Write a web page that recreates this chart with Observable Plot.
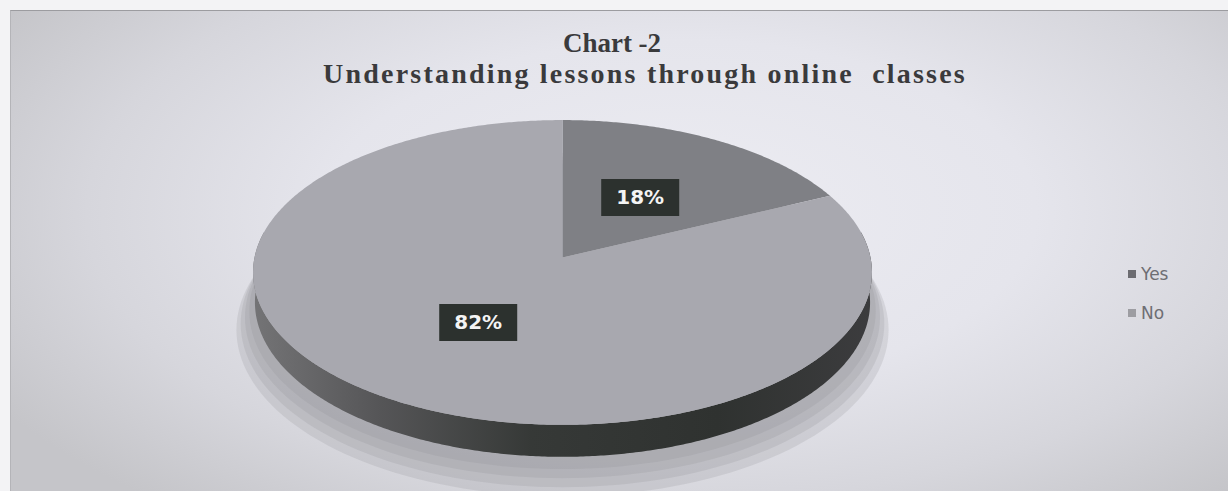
<!DOCTYPE html>
<html>
<head>
<meta charset="utf-8">
<script src="https://cdn.jsdelivr.net/npm/d3@7"></script>
<script src="https://cdn.jsdelivr.net/npm/@observablehq/plot@0.6"></script>
<style>
  html, body { margin: 0; padding: 0; background: #f3f3f5; }
  #wrap { position: relative; width: 1228px; height: 491px; overflow: hidden; background: #f3f3f5; }
  #panel { position: absolute; left: 10px; top: 10px; right: 0; bottom: 0;
    border-top: 1px solid #9c9ca0; border-left: 1px solid #b4b4b8;
    background: radial-gradient(ellipse 65% 80% at 55% 42%, #ececf2 0%, #e5e5ec 45%, #d6d6dc 75%, #c5c5c9 100%); }
  .ttl { position: absolute; transform: translateX(-50%); white-space: pre;
    font-family: "Liberation Serif", "Times New Roman", serif; font-weight: bold; color: #3a3a3c; }
  #title { left: 612px; top: 28px; font-size: 27px; }
  #subtitle { left: 645px; top: 58px; font-size: 28px; letter-spacing: 2.2px; }
  #chart { position: absolute; left: 0; top: 100px; }
  #legend { position: absolute; left: 1128px; top: 254px; font-family: "DejaVu Sans", Verdana, sans-serif;
    font-size: 17px; color: #6e6e73; }
  .li { display: flex; align-items: center; height: 39px; }
  .sw { width: 8px; height: 8px; margin-right: 5px; }
</style>
</head>
<body>
<div id="wrap">
  <div id="panel"></div>
  <div id="title" class="ttl"></div>
  <div id="subtitle" class="ttl"></div>
  <div id="chart"></div>
  <div id="legend"></div>
</div>
<script>
// ---- data ----
const categories = ["Yes", "No"];
const values = [18, 82];
const labelText = ["18%", "82%"];
const titleText = "Chart -2";
const subtitleText = "Understanding lessons through online  classes";

// ---- styles ----
const sliceColors = ["#7f8085", "#a8a8af"];
const legendColors = ["#6c6c71", "#9d9da2"];

// ---- geometry (3D perspective pie) ----
const W = 1228, SVGH = 391;
const K = 308;            // px per projected unit
const CX = 562, CY = 157; // pie centre within svg
const S = 0.49, C = Math.sqrt(1 - S * S), D = 8.89, H = 0.112;

function proj(theta, z = 0, r = 1) {
  const X = r * Math.sin(theta), Wd = r * Math.cos(theta);
  const depth = D + Wd * C - z * S;
  return [X * D / depth, (Wd * S + z * C) * D / depth];
}

const total = d3.sum(values);
let acc = 0;
const slices = categories.map((cat, i) => {
  const a0 = acc / total * 2 * Math.PI;
  acc += values[i];
  const a1 = acc / total * 2 * Math.PI;
  return {cat, label: labelText[i], a0, a1, mid: (a0 + a1) / 2};
});

const faceRows = slices.flatMap(s => {
  const pts = [{cat: s.cat, x: 0, y: 0}];
  const n = Math.ceil((s.a1 - s.a0) / (Math.PI / 360));
  for (let j = 0; j <= n; j++) {
    const [x, y] = proj(s.a0 + (s.a1 - s.a0) * j / n);
    pts.push({cat: s.cat, x, y});
  }
  pts.push({cat: s.cat, x: 0, y: 0});
  return pts;
});

const sideRows = [];
{
  const t0 = 80 * Math.PI / 180, t1 = 280 * Math.PI / 180, n = 400;
  for (let j = 0; j <= n; j++) { const [x, y] = proj(t0 + (t1 - t0) * j / n, 0); sideRows.push({x, y}); }
  for (let j = n; j >= 0; j--) { const [x, y] = proj(t0 + (t1 - t0) * j / n, -H); sideRows.push({x, y}); }
}

// soft shadow: a few stacked translucent outlines of the base
const shadowLayers = [1.02, 1.035, 1.05, 1.065];
const shadowRows = shadowLayers.flatMap((r, k) => d3.range(0, 361, 2).map(d => {
  const [x, y] = proj(d * Math.PI / 180, -H - 0.03 - 0.022 * k, r);
  return {layer: k, x, y};
}));

const labelRows = slices.map(s => {
  const [x, y] = proj(s.mid, 0, 0.49);
  return {x, y, label: s.label};
});

const rectSymbol = { draw(ctx) { ctx.rect(-39, -18.5, 78, 37); } };

const defs = () => {
  const g = d3.create("svg:defs");
  const lg = g.append("linearGradient").attr("id", "sideGrad").attr("x1", 0).attr("x2", 1).attr("y1", 0).attr("y2", 0);
  [[0, "#747476"], [0.2, "#565658"], [0.45, "#363937"], [0.75, "#2f3230"], [1, "#3c3c3e"]]
    .forEach(([o, c]) => lg.append("stop").attr("offset", o).attr("stop-color", c));
  return g.node();
};

const chart = Plot.plot({
  width: W, height: SVGH, margin: 0,
  x: {domain: [-1, 1], range: [CX - K, CX + K], axis: null},
  y: {domain: [-1, 1], range: [CY + K, CY - K], axis: null},
  color: {domain: categories, range: sliceColors},
  style: {background: "transparent", overflow: "visible"},
  marks: [
    defs,
    Plot.line(shadowRows, {x: "x", y: "y", z: "layer", fill: "#8a8a90", fillOpacity: 0.2, stroke: "none"}),
    Plot.line(sideRows, {x: "x", y: "y", fill: "url(#sideGrad)", stroke: "none"}),
    Plot.line(faceRows, {x: "x", y: "y", z: "cat", fill: "cat", stroke: "none"}),
    Plot.dot(labelRows, {x: "x", y: "y", symbol: rectSymbol, r: 5, fill: "#2c312e", stroke: "none"}),
    Plot.text(labelRows, {x: "x", y: "y", text: "label", fill: "#f4f4f4", fontWeight: "bold", fontSize: 20,
      fontFamily: "DejaVu Sans, Verdana, sans-serif", ariaLabel: "labels"})
  ]
});
d3.select(chart).selectAll('g[aria-label="labels"] text').style("letter-spacing", "1.5px");
document.getElementById("chart").appendChild(chart);

document.getElementById("title").textContent = titleText;
document.getElementById("subtitle").textContent = subtitleText;
const leg = d3.select("#legend");
categories.forEach((c, i) => {
  const item = leg.append("div").attr("class", "li");
  item.append("div").attr("class", "sw").style("background", legendColors[i]);
  item.append("span").text(c);
});
</script>
</body>
</html>
